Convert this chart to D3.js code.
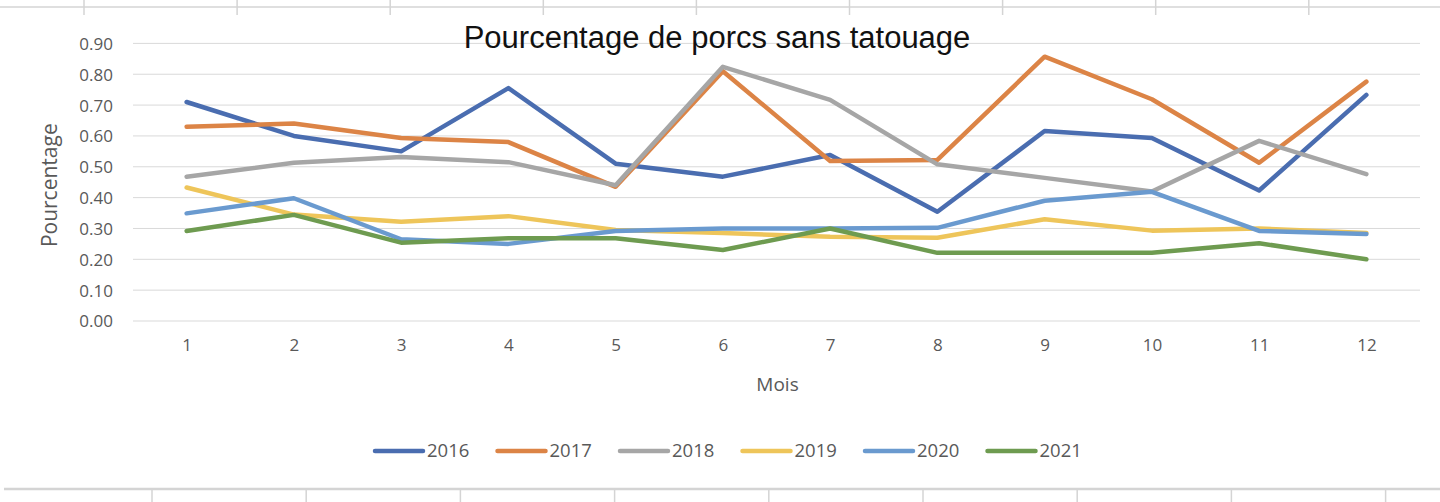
<!DOCTYPE html>
<html>
<head>
<meta charset="utf-8">
<script src="https://cdn.jsdelivr.net/npm/d3@7"></script>
<style>
  body { margin: 0; background: #fff; }
  svg { display: block; }
  .grid line { stroke: #d9d9d9; stroke-width: 1; }
  .tick text { fill: #595959; font-family: "Open Sans", sans-serif; }
  .sheet line { stroke: #d4d4d4; }
</style>
</head>
<body>
<div id="chart"></div>
<script>
// chart data
var months = [1, 2, 3, 4, 5, 6, 7, 8, 9, 10, 11, 12];
var years = ["2016", "2017", "2018", "2019", "2020", "2021"];
var v2016 = [0.71, 0.60, 0.55, 0.755, 0.51, 0.468, 0.538, 0.354, 0.616, 0.593, 0.423, 0.733];
var v2017 = [0.63, 0.64, 0.593, 0.58, 0.435, 0.81, 0.519, 0.522, 0.857, 0.719, 0.513, 0.776];
var v2018 = [0.468, 0.513, 0.532, 0.515, 0.44, 0.824, 0.717, 0.508, 0.464, 0.42, 0.584, 0.476];
var v2019 = [0.433, 0.345, 0.322, 0.34, 0.295, 0.285, 0.273, 0.27, 0.33, 0.293, 0.30, 0.285];
var v2020 = [0.349, 0.398, 0.265, 0.25, 0.292, 0.30, 0.30, 0.302, 0.39, 0.419, 0.292, 0.282];
var v2021 = [0.292, 0.344, 0.254, 0.268, 0.268, 0.23, 0.30, 0.221, 0.221, 0.221, 0.252, 0.20];
var yTicks = [0, 0.1, 0.2, 0.3, 0.4, 0.5, 0.6, 0.7, 0.8, 0.9];

var seriesValues = [v2016, v2017, v2018, v2019, v2020, v2021];
var colors = ["#4a6db0", "#dc8446", "#a6a6a6", "#eec55a", "#6a9acf", "#6e9b50"];

var width = 1440, height = 502;
var plot = { left: 133, right: 1420, top: 43.4, bottom: 321 };

var svg = d3.select("#chart").append("svg")
  .attr("width", width)
  .attr("height", height);

// spreadsheet cell borders behind the chart
var sheet = svg.append("g").attr("class", "sheet");
sheet.append("line").attr("x1", 0).attr("x2", width).attr("y1", 7).attr("y2", 7).attr("stroke-width", 1.5);
for (var i = 0; i < 9; ++i) {
  var xt = 84 + i * 153.1;
  sheet.append("line").attr("x1", xt).attr("x2", xt).attr("y1", 0).attr("y2", 15).attr("stroke-width", 1.5);
}
sheet.append("line").attr("x1", 4).attr("x2", width).attr("y1", 489).attr("y2", 489).attr("stroke-width", 2.5);
for (var j = 0; j < 9; ++j) {
  var xb = 152 + j * 154.2;
  sheet.append("line").attr("x1", xb).attr("x2", xb).attr("y1", 489).attr("y2", height).attr("stroke-width", 1.5);
}

var x = d3.scalePoint()
  .domain(months)
  .range([plot.left, plot.right])
  .padding(0.5);

var y = d3.scaleLinear()
  .domain([0, 0.9])
  .range([plot.bottom, plot.top]);

// horizontal gridlines
svg.append("g")
  .attr("class", "grid")
  .selectAll("line")
  .data(yTicks)
  .join("line")
    .attr("x1", plot.left)
    .attr("x2", plot.right)
    .attr("y1", function(d) { return y(d); })
    .attr("y2", function(d) { return y(d); });

// y axis labels
var yAxis = svg.append("g")
  .attr("transform", "translate(" + (plot.left - 20) + ",0)")
  .call(d3.axisLeft(y).tickValues(yTicks).tickFormat(d3.format(".2f")).tickSize(0).tickPadding(0));
yAxis.select(".domain").remove();
yAxis.selectAll("text").attr("font-size", 17).attr("dy", "0.35em");

// x axis labels
var xAxis = svg.append("g")
  .attr("transform", "translate(0," + (plot.bottom + 18) + ")")
  .call(d3.axisBottom(x).tickSize(0).tickPadding(0));
xAxis.select(".domain").remove();
xAxis.selectAll("text").attr("font-size", 17).attr("dy", "0.71em");

// axis titles
svg.append("text")
  .attr("x", (plot.left + plot.right) / 2 + 1)
  .attr("y", 391)
  .attr("text-anchor", "middle")
  .attr("font-family", "Open Sans, sans-serif")
  .attr("font-size", 19)
  .attr("fill", "#595959")
  .text("Mois");

svg.append("text")
  .attr("transform", "translate(57," + ((plot.top + plot.bottom) / 2 + 3) + ") rotate(-90)")
  .attr("text-anchor", "middle")
  .attr("font-family", "Open Sans, sans-serif")
  .attr("font-size", 21)
  .attr("fill", "#595959")
  .text("Pourcentage");

// title
svg.append("text")
  .attr("x", 717)
  .attr("y", 48)
  .attr("text-anchor", "middle")
  .attr("font-family", "Liberation Sans, Arial, sans-serif")
  .attr("font-size", 31)
  .attr("fill", "#111")
  .text("Pourcentage de porcs sans tatouage");

// series lines
var line = d3.line()
  .x(function(d, i) { return x(months[i]); })
  .y(function(d) { return y(d); });

svg.append("g")
  .selectAll("path")
  .data(seriesValues)
  .join("path")
    .attr("fill", "none")
    .attr("stroke", function(d, i) { return colors[i]; })
    .attr("stroke-width", 4.5)
    .attr("stroke-linejoin", "round")
    .attr("stroke-linecap", "round")
    .attr("d", line);

// legend
var legend = svg.append("g").attr("transform", "translate(375,451)");
var item = legend.selectAll("g")
  .data(years)
  .join("g")
    .attr("transform", function(d, i) { return "translate(" + (i * 122.5) + ",0)"; });
item.append("line")
  .attr("x1", 0).attr("x2", 48)
  .attr("stroke", function(d, i) { return colors[i]; })
  .attr("stroke-width", 4.5)
  .attr("stroke-linecap", "round");
item.append("text")
  .attr("x", 52)
  .attr("dy", "0.35em")
  .attr("font-family", "Open Sans, sans-serif")
  .attr("font-size", 18.5)
  .attr("fill", "#595959")
  .text(function(d) { return d; });
</script>
</body>
</html>
